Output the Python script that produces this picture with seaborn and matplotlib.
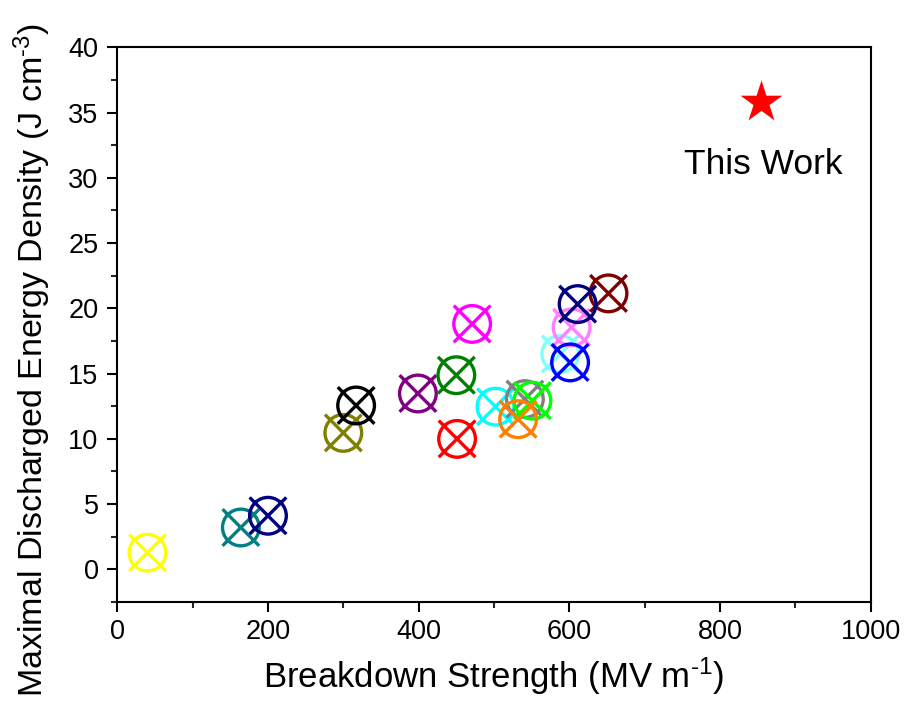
import numpy as np
import pandas as pd
import matplotlib
matplotlib.use("Agg")
import matplotlib.pyplot as plt
from matplotlib.path import Path
from matplotlib.markers import MarkerStyle
from matplotlib.ticker import MultipleLocator
import seaborn as sns

# Reported dielectric composites: breakdown strength (MV/m) and discharged energy density (J/cm^3)
samples = ["ref01", "ref02", "ref03", "ref04", "ref05", "ref06", "ref07", "ref08", "ref09",
           "ref10", "ref11", "ref12", "ref13", "ref14", "ref15", "ref16", "ref17", "ref18"]
breakdown = [40, 164, 200, 300, 317, 399, 450, 451, 471,
             502, 541, 551, 532, 588, 603, 652, 601, 611]
energy = [1.27, 3.2, 4.1, 10.45, 12.55, 13.47, 14.87, 9.99, 18.8,
          12.46, 13.04, 12.92, 11.5, 16.5, 18.54, 21.14, 15.85, 20.32]
colors = ["#FFFF00", "#008080", "#000080", "#808000", "#000000", "#800080", "#008000", "#FF0000", "#FF00FF",
          "#00FFFF", "#808080", "#00FF00", "#FF8000", "#80FFFF", "#FF80FF", "#800000", "#0000FF", "#000080"]

# Present work
this_work_x = [854]
this_work_y = [35.8]
this_work_label = "This Work"

x_label = "Breakdown Strength (MV m$^{\u2010\\mathregular{1}}$)"
y_label = "Maximal Discharged Energy Density (J cm$^{\u2010\\mathregular{3}}$)"

sns.set_theme(style="ticks")
plt.rcParams["font.family"] = ["Liberation Sans", "DejaVu Sans"]
plt.rcParams["mathtext.fontset"] = "custom"
plt.rcParams["mathtext.rm"] = "Liberation Sans"
plt.rcParams["mathtext.it"] = "Liberation Sans:italic"
plt.rcParams["mathtext.bf"] = "Liberation Sans:bold"
plt.rcParams["text.color"] = "black"
plt.rcParams["axes.labelcolor"] = "black"

df = pd.DataFrame({"sample": samples, "breakdown": breakdown, "energy": energy})
palette = dict(zip(samples, colors))

# Circle with a cross through it, drawn as one open marker
cross_circle = Path.make_compound_path(
    Path.unit_circle(),
    Path([(-1, -1), (1, 1)]),
    Path([(-1, 1), (1, -1)]),
)
marker = MarkerStyle(cross_circle, fillstyle="none")

fig = plt.figure(figsize=(9.1, 7.09), dpi=100)
ax = fig.add_axes([0.1289, 0.1511, 0.8279, 0.7822])

sns.scatterplot(data=df, x="breakdown", y="energy", hue="sample", palette=palette,
                marker=marker, s=26.4 ** 2, linewidth=2.4, legend=False, ax=ax)
coll = ax.collections[-1]
fc = coll.get_facecolors()
coll.set_edgecolors(fc)
coll.set_facecolors("none")

sns.scatterplot(x=this_work_x, y=this_work_y, marker="*", color="#FF0000",
                s=31.7 ** 2, linewidth=0, legend=False, ax=ax)
ax.text(858, 30.3, this_work_label, fontsize=25.5, ha="center", va="baseline", color="black")

ax.set_xlim(0, 1000)
ax.set_ylim(-2.5, 40)
ax.xaxis.set_major_locator(MultipleLocator(200))
ax.xaxis.set_minor_locator(MultipleLocator(100))
ax.yaxis.set_major_locator(MultipleLocator(5))
ax.yaxis.set_minor_locator(MultipleLocator(2.5))

for sp in ax.spines.values():
    sp.set_linewidth(1.5)
    sp.set_color("black")
    sp.set_visible(True)
ax.tick_params(axis="both", which="major", direction="out", length=7.5, width=1.5,
               labelsize=19.5, colors="black", top=False, right=False)
ax.tick_params(axis="both", which="minor", direction="out", length=4.2, width=1.5,
               top=False, right=False)
ax.tick_params(axis="x", which="major", pad=5)
ax.tick_params(axis="y", which="major", pad=6)

ax.set_xlabel(x_label, fontsize=25, color="black")
ax.set_ylabel(y_label, fontsize=24.5, color="black")
ax.xaxis.label.set_va("baseline")
ax.xaxis.set_label_coords(0.5, (601.9 - 688) / 554.6)
ax.yaxis.label.set_va("baseline")
ax.yaxis.set_label_coords((43 - 117.3) / 753.4, (601.9 - 360) / 554.6)
ax.grid(False)

fig.savefig("out.png", dpi=100, facecolor="white")
